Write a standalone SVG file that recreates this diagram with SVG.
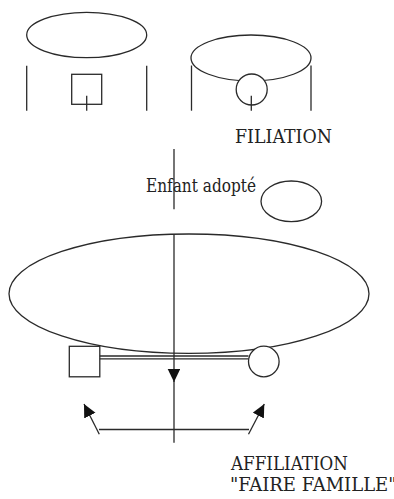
<svg xmlns="http://www.w3.org/2000/svg" width="394" height="499" viewBox="0 0 394 499">
<style>
.s{fill:none;stroke:#2a2a2a;stroke-width:1.3}
.w{fill:#fff;stroke:#2a2a2a;stroke-width:1.3}
text{font-family:"DejaVu Serif",serif;font-size:18px;fill:#222}
</style>
<defs>
<marker id="ah" markerUnits="userSpaceOnUse" markerWidth="14" markerHeight="13" refX="13" refY="6.3" orient="auto">
<path d="M0,0 L13,6.3 L0,12.6 z" fill="#111"/>
</marker>
</defs>
<rect width="394" height="499" fill="#fff"/>
<g id="filiation-left">
<ellipse class="s" cx="86.7" cy="35" rx="60" ry="22.7"/>
<line class="s" x1="26.7" y1="65.7" x2="26.7" y2="110.7"/>
<line class="s" x1="146.7" y1="65.7" x2="146.7" y2="110.7"/>
<rect class="s" x="71.7" y="74.3" width="30" height="30"/>
<line class="s" x1="86.7" y1="95.7" x2="86.7" y2="110.7"/>
</g>
<g id="filiation-right">
<ellipse class="s" cx="251" cy="58" rx="60" ry="23"/>
<line class="s" x1="191.5" y1="65.5" x2="191.5" y2="110.7"/>
<line class="s" x1="311" y1="65.5" x2="311" y2="110.7"/>
<circle class="w" cx="251.7" cy="89.5" r="15.5"/>
<line class="s" x1="251.3" y1="95.7" x2="251.3" y2="110.7"/>
</g>
<g id="label-filiation"><text x="235" y="142.7" textLength="97" lengthAdjust="spacingAndGlyphs">FILIATION</text></g>
<g id="enfant-adopte">
<text x="146" y="191.7" textLength="110" lengthAdjust="spacingAndGlyphs">Enfant adopté</text>
<ellipse class="s" cx="291.3" cy="201.3" rx="30.3" ry="20.3"/>
</g>
<g id="family">
<ellipse class="s" cx="189" cy="293.7" rx="180" ry="59.7"/>
</g>
<g id="couple">
<rect class="w" x="69.3" y="346.3" width="30.5" height="30.5"/>
<circle class="w" cx="263.8" cy="361.5" r="15.3"/>
</g>
<g id="connectors">
<line class="s" x1="174" y1="149" x2="174" y2="209.3"/>
<line class="s" x1="99.8" y1="356" x2="248.5" y2="356"/>
<line class="s" x1="99.8" y1="358.8" x2="248.5" y2="358.8"/>
<path class="s" d="M174,234 L174,382" marker-end="url(#ah)"/>
<path class="s" d="M174,380 L174,442.7"/>
<path class="s" d="M99,429.5 L249,429.5"/>
<path class="s" d="M99.3,434.3 L84,404" marker-end="url(#ah)"/>
<path class="s" d="M248.5,434.3 L264.3,404" marker-end="url(#ah)"/>
</g>
<g id="label-affiliation">
<text x="231" y="469.5" textLength="117" lengthAdjust="spacingAndGlyphs">AFFILIATION</text>
<text x="230" y="490.5" font-size="14">"FAIRE FAMILLE"</text>
</g>
</svg>
